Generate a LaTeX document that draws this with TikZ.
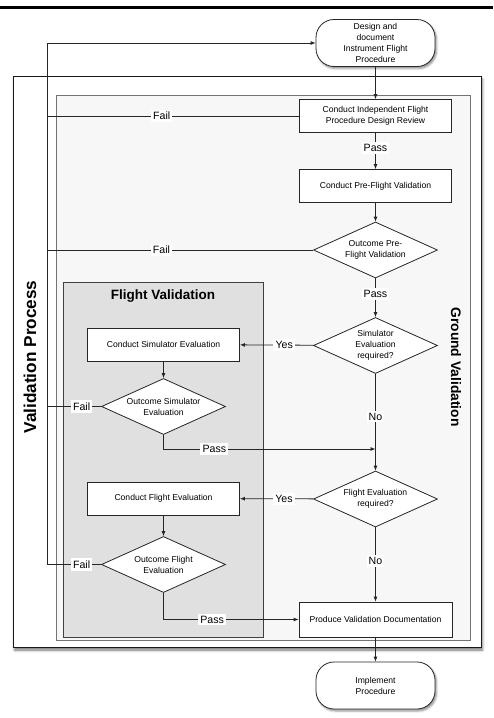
\documentclass[tikz,border=0pt]{standalone}
\usepackage{fontspec}
\setmainfont{Liberation Sans}
\usetikzlibrary{shapes.geometric,shadows.blur,arrows.meta}

\begin{document}
\begin{tikzpicture}[x=1pt,y=-1pt,
  >={Latex[length=5pt,width=4pt]},
  line/.style={draw=black!85, line width=0.8pt},
  arr/.style={line,->},
  txt/.style={font=\fontsize{8.6}{11}\selectfont, align=center},
  procbox/.style={txt, rectangle, draw=black!85, line width=0.8pt, fill=white,
    minimum width=152pt, minimum height=33pt, inner sep=0pt},
  decision/.style={txt, diamond, aspect=2.2, draw=black!85, line width=0.8pt, fill=white,
    minimum width=124pt, minimum height=56pt, inner sep=0pt},
  terminal/.style={txt, rectangle, rounded corners=18pt, draw=black!85, line width=0.8pt,
    fill=white, minimum width=119pt, minimum height=47pt, inner sep=1pt,
    blur shadow={shadow xshift=1.5pt, shadow yshift=-2pt, shadow blur radius=2pt, shadow opacity=45}},
  lab/.style={fill=white, inner sep=2.2pt, font=\fontsize{10.6}{12}\selectfont},
  region title/.style={font=\bfseries\fontsize{#1}{#1}\selectfont},
]
\useasboundingbox (0,0) rectangle (493,718);

% page rule along the top
\draw[line width=3pt] (0,7.5) -- (493,7.5);

% swimlane frames
\draw[fill=white, draw=black!90, line width=0.9pt,
  blur shadow={shadow xshift=1.5pt, shadow yshift=-3pt, shadow blur radius=2.5pt, shadow opacity=55}]
  (13,76) rectangle (481,647);
\draw[fill=black!3, draw=black!55, line width=1pt] (56,95) rectangle (470,640);
\draw[fill=black!12, draw=black!75, line width=0.8pt] (63,282) rectangle (263,637);

% frame titles
\node[region title=17.2, rotate=90] (vp) at (30,357) {Validation Process};
\node[region title=13.8, rotate=-90] (gv) at (456,367) {Ground Validation};
\node[region title=13.5] (fv) at (163,296) {Flight Validation};

% main column
\node[terminal] (start) at (375.5,43) {Design and\\document\\Instrument Flight\\Procedure};
\node[procbox] (review) at (375.5,116) {Conduct Independent Flight\\Procedure Design Review};
\node[procbox] (pre) at (375.5,186) {Conduct Pre-Flight Validation};
\node[decision] (d1) at (375.5,250) {Outcome Pre-\\Flight Validation};
\node[decision] (d2) at (375.5,345.5) {Simulator\\Evaluation\\required?};
\node[decision] (d4) at (375.5,499) {Flight Evaluation\\required?};
\node[procbox, minimum width=153pt, minimum height=35pt] (produce) at (375.5,619.5) {Produce Validation Documentation};
\node[terminal] (implement) at (375.5,685.5) {Implement\\Procedure};

% flight validation column
\node[procbox] (simbox) at (163.5,344.5) {Conduct Simulator Evaluation};
\node[decision] (d3) at (163.5,406.5) {Outcome Simulator\\Evaluation};
\node[procbox] (flightbox) at (163.5,498.5) {Conduct Flight Evaluation};
\node[decision] (d5) at (163.5,564.5) {Outcome Flight\\Evaluation};

% helper points
\coordinate (bus) at (47,43);
\coordinate (merge) at (375.5,449);

% connectors
\draw[arr] (start) -- (review);
\draw[arr] (review) -- node[lab, pos=.42] (lpass1) {Pass} (pre);
\draw[arr] (pre) -- (d1);
\draw[arr] (d1) -- node[lab, pos=.4] (lpass2) {Pass} (d2);
\draw[arr] (d2) -- node[lab, pos=.4] (lyes1) {Yes} (simbox);
\draw[arr] (simbox) -- (d3);
\draw[arr] (d2) -- node[lab, pos=.44] (lno1) {No} (d4);
\draw[arr] (d3.south) |- node[lab, pos=.62] (lpass3) {Pass} (merge);
\draw[arr] (d4) -- node[lab, pos=.4] (lyes2) {Yes} (flightbox);
\draw[arr] (flightbox) -- (d5);
\draw[arr] (d4) -- node[lab, pos=.45] (lno2) {No} (produce);
\draw[arr] (d5.south) |- node[lab, pos=.68] (lpass4) {Pass} (produce.west);
\draw[arr] (produce) -- (implement);

% failure returns to the design step
\draw[line] (review.west) -- node[lab, pos=.545] (lfail1) {Fail} (review.west -| bus);
\draw[line] (d1.west) -- node[lab, pos=.57] (lfail2) {Fail} (d1.west -| bus);
\draw[line] (d3.west) -- node[lab, pos=.36] (lfail3) {Fail} (d3.west -| bus);
\draw[arr] (d5.west) -- node[lab, pos=.36] (lfail4) {Fail} (d5.west -| bus) -- (bus) -- (start.west);
\end{tikzpicture}
\end{document}
